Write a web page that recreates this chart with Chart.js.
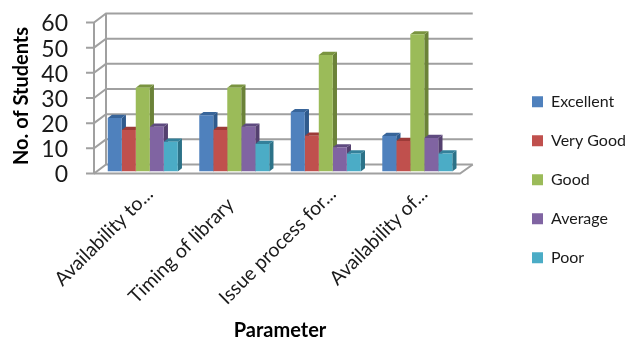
<!DOCTYPE html>
<html>
<head>
<meta charset="utf-8">
<style>
    html, body { margin: 0; padding: 0; background: #fff; }
    canvas { display: block; }
</style>
<script src="https://cdn.jsdelivr.net/npm/chart.js@4/dist/chart.umd.min.js"></script>
</head>
<body>
<canvas id="chart" width="629" height="339"></canvas>
<script>
const categories = ["Availability to...", "Timing of library", "Issue process for...", "Availability of..."];
const excellent = [21.3, 22.4, 23.6, 14.1];
const veryGood = [16.5, 16.5, 14.2, 12.1];
const good = [33.3, 33.3, 46.3, 54.5];
const average = [17.8, 17.8, 9.6, 13.3];
const poor = [11.8, 10.9, 7.2, 7.2];
const seriesNames = ["Excellent", "Very Good", "Good", "Average", "Poor"];
const seriesValues = [excellent, veryGood, good, average, poor];
const frontColors = ["#4F81BD", "#C0504D", "#9BBB59", "#8064A2", "#4BACC6"];
const sideColors = ["#2F5A8C", "#8A3330", "#6B8238", "#54406F", "#2C7288"];
const topColors = ["#38659A", "#9C3B38", "#7A9440", "#5F4B80", "#33809A"];

const gridColor = "#A0A0A0";
const fontName = "Lato, 'Open Sans', sans-serif";

// 3D look: walls behind the bars and the depth faces of each bar
const depthPlugin = {
    id: 'depth',
    afterLayout(chart) {
        // legend sits well right of the plot, more than its padding gives
        chart.legend.left = 532 - chart.options.plugins.legend.labels.padding;
        chart.legend.right = 629;
    },
    beforeDatasetsDraw(chart) {
        const ctx = chart.ctx;
        const yScale = chart.scales.y;
        const area = chart.chartArea;
        const frontX = area.left - 3, backX = area.left + 9;
        const rightFront = area.right - 3, rightBack = area.right + 9.7;

        function line(pts) {
            ctx.beginPath();
            pts.forEach((p, i) => i ? ctx.lineTo(p[0], p[1]) : ctx.moveTo(p[0], p[1]));
            ctx.stroke();
        }

        ctx.save();
        ctx.strokeStyle = gridColor;
        ctx.lineWidth = 2;
        yScale.ticks.forEach(t => {
            const py = yScale.getPixelForValue(t.value);
            line([[frontX - 8, py + 2], [frontX, py + 2], [backX, py - 7], [rightBack, py - 7]]);
        });
        const top = yScale.getPixelForValue(60), zero = yScale.getPixelForValue(0);
        line([[frontX, top + 2], [frontX, zero + 2]]);
        line([[backX, top - 7], [backX, zero - 7]]);
        line([[frontX, zero + 2], [rightFront, zero + 2], [rightBack, zero - 7]]);

        // bar depth faces, left to right so a neighbour's top covers the side before it
        const dx = 4.2, dy = 3.2;
        categories.forEach((c, ci) => {
            seriesValues.forEach((s, si) => {
                const bar = chart.getDatasetMeta(si).data[ci];
                const left = bar.x - bar.width / 2, right = bar.x + bar.width / 2;
                ctx.fillStyle = sideColors[si];
                ctx.beginPath();
                ctx.moveTo(right, bar.y);
                ctx.lineTo(right + dx, bar.y - dy);
                ctx.lineTo(right + dx, bar.base - dy);
                ctx.lineTo(right, bar.base);
                ctx.closePath();
                ctx.fill();
                ctx.fillStyle = topColors[si];
                ctx.beginPath();
                ctx.moveTo(left, bar.y);
                ctx.lineTo(left + dx, bar.y - dy);
                ctx.lineTo(right + dx, bar.y - dy);
                ctx.lineTo(right, bar.y);
                ctx.closePath();
                ctx.fill();
            });
        });
        ctx.restore();
    }
};

new Chart(document.getElementById('chart').getContext('2d'), {
    type: 'bar',
    data: {
        labels: categories,
        datasets: seriesNames.map((name, i) => ({
            label: name,
            data: seriesValues[i],
            backgroundColor: frontColors[i]
        }))
    },
    options: {
        responsive: false,
        animation: false,
        devicePixelRatio: 1,
        categoryPercentage: 0.765,
        barPercentage: 1,
        layout: { padding: { top: 20.5, right: 39, bottom: 0, left: 0 } },
        plugins: {
            tooltip: { enabled: false },
            legend: {
                position: 'right',
                labels: {
                    boxWidth: 11,
                    boxHeight: 11,
                    padding: 23,
                    color: '#1a1a1a',
                    font: { family: fontName, size: 16 }
                }
            }
        },
        scales: {
            x: {
                afterFit: s => { s.height = 339 - 171.5; s.paddingLeft = 0; s.paddingRight = 0; },
                grid: { display: false, drawTicks: false },
                border: { display: false },
                ticks: {
                    minRotation: 45,
                    maxRotation: 45,
                    autoSkip: false,
                    padding: 11,
                    labelOffset: 7,
                    color: '#1a1a1a',
                    font: { family: fontName, size: 19.5 },
                    // the one label without an ellipsis sits lower down in the original
                    callback(value, index) {
                        return index === 1 ? categories[index] + '   ' : categories[index];
                    }
                },
                title: {
                    display: true,
                    text: 'Parameter',
                    color: '#000',
                    padding: { top: 0, bottom: -4 },
                    font: { family: fontName, size: 20, weight: 'bold' }
                }
            },
            y: {
                min: 0,
                max: 60,
                afterFit: s => { s.width = 97; s.paddingTop = 0; s.paddingBottom = 0; },
                grid: { display: false, drawTicks: false },
                border: { display: false },
                ticks: {
                    stepSize: 10,
                    autoSkip: false,
                    padding: 29,
                    labelOffset: 3.5,
                    color: '#1a1a1a',
                    font: { family: fontName, size: 23 }
                },
                title: {
                    display: true,
                    text: 'No. of Students',
                    color: '#000',
                    padding: { top: 10, bottom: 0 },
                    font: { family: fontName, size: 20, weight: 'bold' }
                }
            }
        }
    },
    plugins: [depthPlugin]
});
</script>
</body>
</html>
